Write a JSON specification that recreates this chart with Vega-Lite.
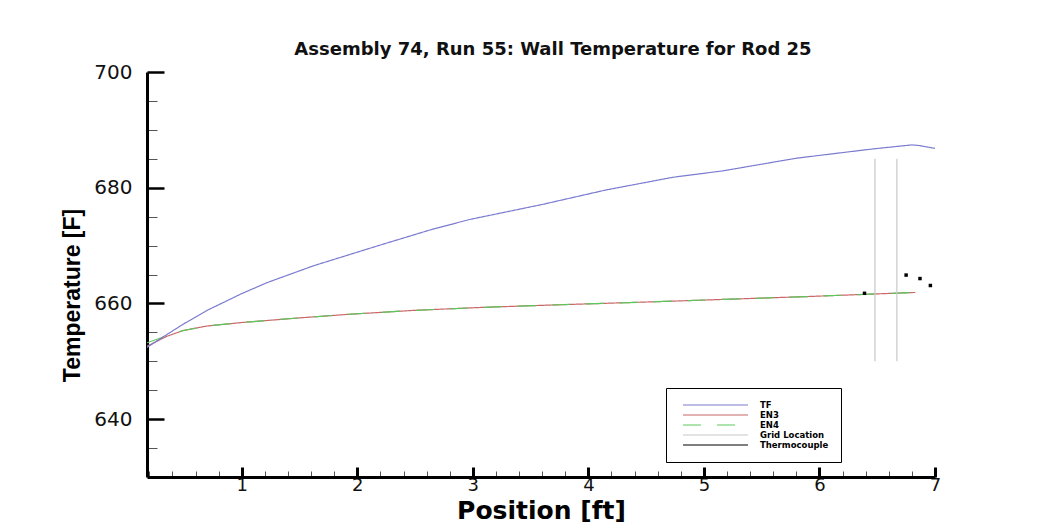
{
  "$schema": "https://vega.github.io/schema/vega-lite/v6.json",
  "autosize": "none",
  "width": 788,
  "height": 405,
  "padding": {"left": 147, "top": 72, "right": 120, "bottom": 54},
  "background": "white",
  "title": {
    "text": "Assembly 74, Run 55: Wall Temperature for Rod 25",
    "font": "DejaVu Sans",
    "fontSize": 18,
    "fontWeight": "bold",
    "color": "#111111",
    "anchor": "middle",
    "dx": 12,
    "offset": 3
  },
  "config": {
    "view": {"stroke": null},
    "axis": {"grid": false}
  },
  "datasets": {
    "curves": [
      {"series": "EN3", "gid": "EN3", "position": 0.18, "temp": 652.6},
      {"series": "EN3", "gid": "EN3", "position": 0.35, "temp": 654.3},
      {"series": "EN3", "gid": "EN3", "position": 0.49, "temp": 655.3},
      {"series": "EN3", "gid": "EN3", "position": 0.7, "temp": 656.1},
      {"series": "EN3", "gid": "EN3", "position": 1.0, "temp": 656.7},
      {"series": "EN3", "gid": "EN3", "position": 1.5, "temp": 657.5},
      {"series": "EN3", "gid": "EN3", "position": 1.91, "temp": 658.1},
      {"series": "EN3", "gid": "EN3", "position": 2.49, "temp": 658.8},
      {"series": "EN3", "gid": "EN3", "position": 3.06, "temp": 659.3},
      {"series": "EN3", "gid": "EN3", "position": 3.64, "temp": 659.7},
      {"series": "EN3", "gid": "EN3", "position": 4.59, "temp": 660.3},
      {"series": "EN3", "gid": "EN3", "position": 5.91, "temp": 661.2},
      {"series": "EN3", "gid": "EN3", "position": 6.83, "temp": 661.9},
      {"series": "EN4", "gid": "EN4", "position": 0.18, "temp": 653.2},
      {"series": "EN4", "gid": "EN4", "position": 0.35, "temp": 654.4},
      {"series": "EN4", "gid": "EN4", "position": 0.49, "temp": 655.3},
      {"series": "EN4", "gid": "EN4", "position": 0.7, "temp": 656.1},
      {"series": "EN4", "gid": "EN4", "position": 1.0, "temp": 656.7},
      {"series": "EN4", "gid": "EN4", "position": 1.5, "temp": 657.5},
      {"series": "EN4", "gid": "EN4", "position": 1.91, "temp": 658.1},
      {"series": "EN4", "gid": "EN4", "position": 2.49, "temp": 658.8},
      {"series": "EN4", "gid": "EN4", "position": 3.06, "temp": 659.3},
      {"series": "EN4", "gid": "EN4", "position": 3.64, "temp": 659.7},
      {"series": "EN4", "gid": "EN4", "position": 4.59, "temp": 660.3},
      {"series": "EN4", "gid": "EN4", "position": 5.91, "temp": 661.2},
      {"series": "EN4", "gid": "EN4", "position": 6.83, "temp": 661.9},
      {"series": "TF", "gid": "TF", "position": 0.18, "temp": 652.4},
      {"series": "TF", "gid": "TF", "position": 0.35, "temp": 654.6},
      {"series": "TF", "gid": "TF", "position": 0.5, "temp": 656.5},
      {"series": "TF", "gid": "TF", "position": 0.7, "temp": 658.8},
      {"series": "TF", "gid": "TF", "position": 1.0, "temp": 661.7},
      {"series": "TF", "gid": "TF", "position": 1.22, "temp": 663.6},
      {"series": "TF", "gid": "TF", "position": 1.62, "temp": 666.5},
      {"series": "TF", "gid": "TF", "position": 2.2, "temp": 670.1},
      {"series": "TF", "gid": "TF", "position": 2.63, "temp": 672.7},
      {"series": "TF", "gid": "TF", "position": 2.97, "temp": 674.5},
      {"series": "TF", "gid": "TF", "position": 3.6, "temp": 677.1},
      {"series": "TF", "gid": "TF", "position": 4.15, "temp": 679.6},
      {"series": "TF", "gid": "TF", "position": 4.73, "temp": 681.8},
      {"series": "TF", "gid": "TF", "position": 5.16, "temp": 682.9},
      {"series": "TF", "gid": "TF", "position": 5.8, "temp": 685.1},
      {"series": "TF", "gid": "TF", "position": 6.46, "temp": 686.7},
      {"series": "TF", "gid": "TF", "position": 6.8, "temp": 687.4},
      {"series": "TF", "gid": "TF", "position": 6.86, "temp": 687.3},
      {"series": "TF", "gid": "TF", "position": 7.0, "temp": 686.8},
      {"series": "Grid Location", "gid": "grid1", "position": 6.48, "temp": 650},
      {"series": "Grid Location", "gid": "grid1", "position": 6.48, "temp": 685},
      {"series": "Grid Location", "gid": "grid2", "position": 6.67, "temp": 650},
      {"series": "Grid Location", "gid": "grid2", "position": 6.67, "temp": 685}
    ],
    "thermocouples": [
      {"position": 6.39, "temp": 661.75},
      {"position": 6.75, "temp": 664.9},
      {"position": 6.87, "temp": 664.3},
      {"position": 6.96, "temp": 663.1}
    ]
  },
  "layer": [
    {
      "data": {"name": "curves"},
      "mark": {"type": "line", "clip": true},
      "encoding": {
        "x": {
          "field": "position",
          "type": "quantitative",
          "scale": {"domain": [0.18, 7.0], "nice": false, "zero": false},
          "axis": {
            "values": [0.2, 0.4, 0.6, 0.8, 1, 1.2, 1.4, 1.6, 1.8, 2, 2.2, 2.4, 2.6, 2.8, 3, 3.2, 3.4, 3.6, 3.8, 4, 4.2, 4.4, 4.6, 4.8, 5, 5.2, 5.4, 5.6, 5.8, 6, 6.2, 6.4, 6.6, 6.8, 7],
            "tickCount": 200,
            "labelExpr": "abs(datum.value - round(datum.value)) < 0.01 ? format(datum.value, 'd') : ''",
            "labelOverlap": false,
            "labelFlush": false,
            "labelFont": "DejaVu Sans",
            "labelFontSize": 18,
            "labelColor": "#111111",
            "labelPadding": 9,
            "domainColor": "#000000",
            "domainWidth": 3,
            "tickColor": {"condition": {"test": "abs(datum.value - round(datum.value)) < 0.01", "value": "#000000"}, "value": "#555555"},
            "tickWidth": {"condition": {"test": "abs(datum.value - round(datum.value)) < 0.01", "value": 3}, "value": 1},
            "tickSize": {"condition": {"test": "abs(datum.value - round(datum.value)) < 0.01", "value": -10}, "value": -6},
            "title": "Position [ft]",
            "titleFont": "DejaVu Sans",
            "titleFontSize": 25,
            "titleFontWeight": "bold",
            "titleColor": "#000000",
            "titleBaseline": "top",
            "titleY": 21
          }
        },
        "y": {
          "field": "temp",
          "type": "quantitative",
          "scale": {"domain": [630, 700], "nice": false, "zero": false},
          "axis": {
            "values": [635, 640, 645, 650, 655, 660, 665, 670, 675, 680, 685, 690, 695, 700],
            "tickCount": 200,
            "labelExpr": "datum.value % 20 === 0 ? format(datum.value, 'd') : ''",
            "labelOverlap": false,
            "labelFont": "DejaVu Sans",
            "labelFontSize": 20,
            "labelColor": "#111111",
            "labelPadding": 32,
            "domainColor": "#000000",
            "domainWidth": 3,
            "tickColor": {"condition": {"test": "datum.value % 20 === 0", "value": "#000000"}, "value": "#555555"},
            "tickWidth": {"condition": {"test": "datum.value % 20 === 0", "value": 2.5}, "value": 1},
            "tickSize": {"condition": {"test": "datum.value % 20 === 0", "value": -17}, "value": -10},
            "title": "Temperature [F]",
            "titleFont": "Liberation Sans",
            "titleFontSize": 23,
            "titleFontWeight": "bold",
            "titleColor": "#000000",
            "titleAngle": -90,
            "titleAlign": "center",
            "titleBaseline": "bottom",
            "titleX": -63,
            "titleY": 223
          }
        },
        "detail": {"field": "gid"},
        "color": {
          "field": "series",
          "type": "nominal",
          "scale": {
            "domain": ["TF", "EN3", "EN4", "Grid Location", "Thermocouple"],
            "range": ["#7b7bd0", "#c86868", "#5cc85c", "#c8c8c8", "#000000"]
          },
          "legend": {
            "title": null,
            "orient": "none",
            "legendX": 519,
            "legendY": 316,
            "direction": "vertical",
            "symbolType": "M0,0H16.25",
            "symbolSize": 64,
            "labelFont": "DejaVu Sans",
            "labelFontWeight": "bold",
            "labelFontSize": 8.5,
            "labelColor": "#000000",
            "labelOffset": 72,
            "rowPadding": 0,
            "padding": 12,
            "strokeColor": "#000000",
            "fillColor": "#ffffff"
          }
        },
        "strokeDash": {
          "field": "series",
          "type": "nominal",
          "scale": {
            "domain": ["TF", "EN3", "EN4", "Grid Location", "Thermocouple"],
            "range": [[1, 0], [1, 0], [18, 16], [1, 0], [1, 0]]
          },
          "legend": null
        },
        "strokeWidth": {
          "field": "series",
          "type": "nominal",
          "scale": {
            "domain": ["TF", "EN3", "EN4", "Grid Location", "Thermocouple"],
            "range": [1.2, 1.2, 1.2, 1, 2.5]
          },
          "legend": null
        }
      }
    },
    {
      "data": {"name": "thermocouples"},
      "mark": {"type": "square", "filled": true, "color": "#000000", "size": 12, "opacity": 1},
      "encoding": {
        "x": {"field": "position", "type": "quantitative"},
        "y": {"field": "temp", "type": "quantitative"}
      }
    }
  ]
}
